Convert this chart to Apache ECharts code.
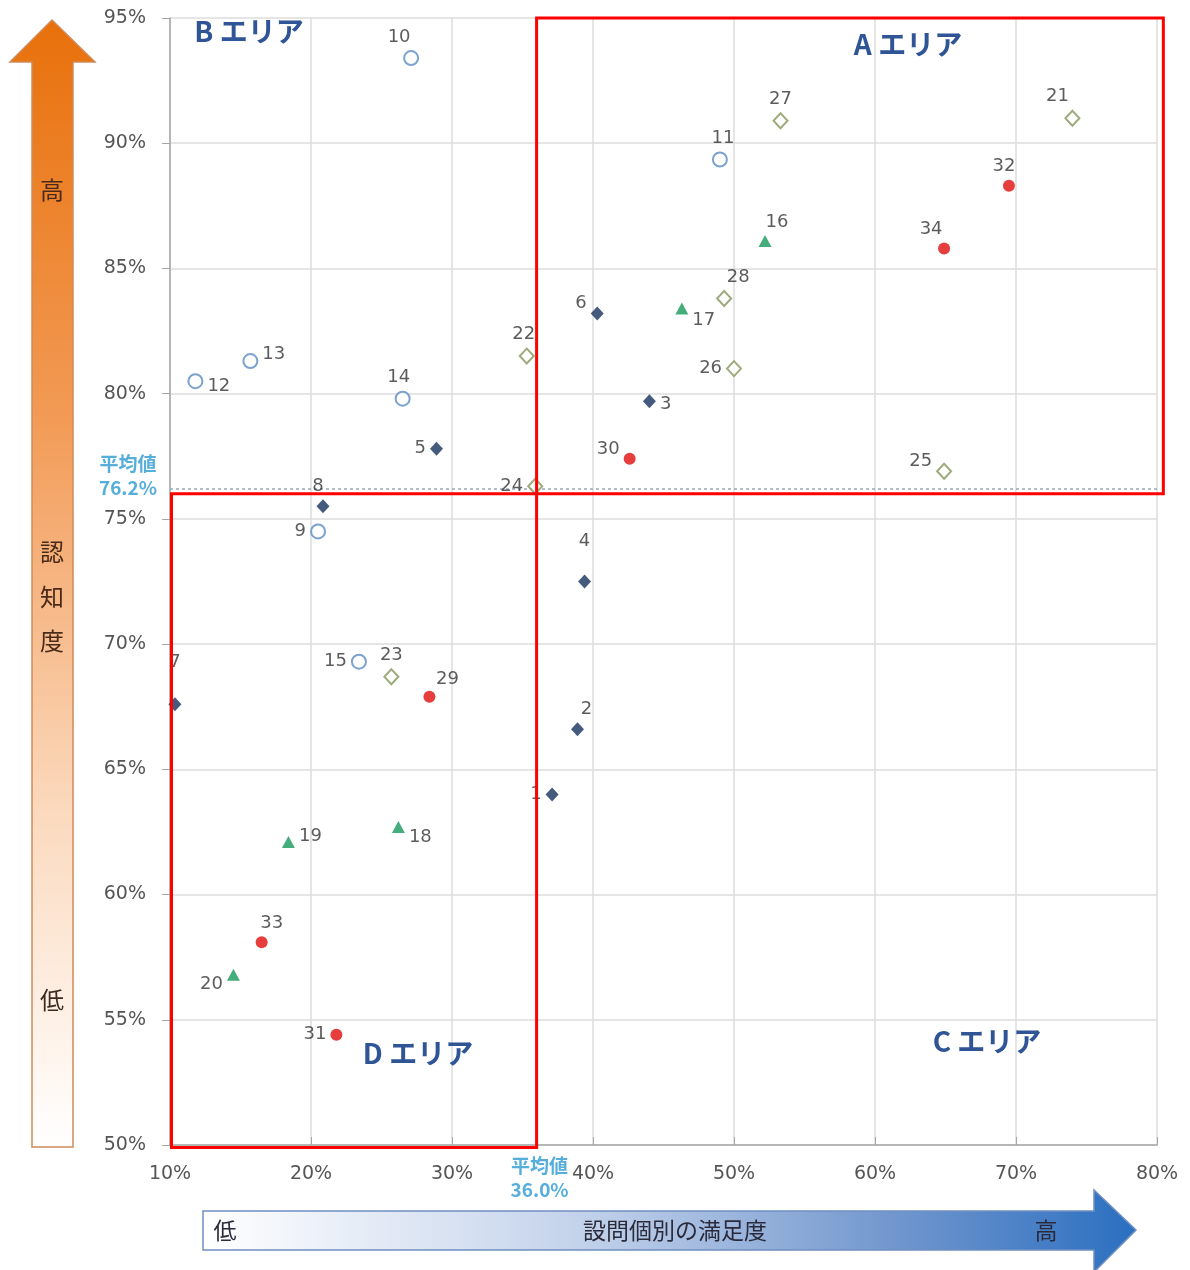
<!DOCTYPE html>
<html>
<head>
<meta charset="utf-8">
<script src="https://cdn.jsdelivr.net/npm/echarts@6/dist/echarts.min.js"></script>
<style>
html,body{margin:0;padding:0;background:#fff;}
#c{width:1190px;height:1270px;}
</style>
</head>
<body>
<div id="c"></div>
<script>
// ---- data: [満足度(%), 認知度(%), 設問番号]
const groupA = [[37.1,64.0,1],[38.9,66.6,2],[44.0,79.7,3],[39.4,72.5,4],[28.9,77.8,5],[40.3,83.2,6],[10.35,67.6,7],[20.85,75.5,8]];
const groupB = [[20.5,74.5,9],[27.1,93.4,10],[49.0,89.35,11],[11.8,80.5,12],[15.7,81.3,13],[26.5,79.8,14],[23.4,69.3,15]];
const groupC = [[52.2,86.1,16],[46.3,83.4,17],[26.2,62.7,18],[18.4,62.1,19],[14.5,56.8,20]];
const groupD = [[74.0,91.0,21],[35.3,81.5,22],[25.7,68.7,23],[35.9,76.3,24],[64.9,76.9,25],[50.0,81.0,26],[53.3,90.9,27],[49.3,83.8,28]];
const groupE = [[28.4,67.9,29],[42.6,77.4,30],[21.8,54.4,31],[69.5,88.3,32],[16.5,58.1,33],[64.9,85.8,34]];
const avgX = 36.0;
const avgY = 76.2;
const xTicks = [10,20,30,40,50,60,70,80];
const yTicks = [50,55,60,65,70,75,80,85,90,95];
const areaNames = ['A エリア','B エリア','C エリア','D エリア'];

// ---- label placement (style only)
const labelPlace = {
  1:['left',[0,0]],2:['top',[9,0]],3:['right',[0,3]],4:['top',[0,-20]],5:['left',[0,0]],6:['left',[0,-10]],
  7:['top',[0,-22]],8:['top',[-5,0]],9:['left',[0,0]],10:['top',[-12,0]],11:['top',[3,0]],12:['right',[0,5]],
  13:['right',[0,-7]],14:['top',[-4,0]],15:['left',[0,0]],16:['top',[12,0]],17:['right',[0,12]],18:['right',[0,10]],
  19:['right',[0,-6]],20:['left',[0,10]],21:['top',[-15,0]],22:['top',[-3,0]],23:['top',[0,0]],24:['left',[0,0]],
  25:['left',[0,-10]],26:['left',[0,0]],27:['top',[0,0]],28:['top',[14,0]],29:['top',[18,2]],30:['left',[0,-9]],
  31:['left',[0,0]],32:['top',[-5,0]],33:['top',[10,0]],34:['top',[-13,0]]
};

const numFont = '"DejaVu Sans", Verdana, sans-serif';
const jpFont = '"Noto Sans CJK JP", sans-serif';

function mkData(arr){
  return arr.map(d => {
    const p = labelPlace[d[2]] || ['top',[0,0]];
    return {value: d, label: {position: p[0], offset: p[1]}};
  });
}
function mkSeries(name, arr, symbol, size, itemStyle){
  return {
    name, type:'scatter', data: mkData(arr), symbol, symbolSize: size,
    itemStyle, clip:false, z:5,
    label:{show:true, formatter: p => String(p.value[2]), color:'#333333', fontSize:18, fontFamily:numFont, distance:4},
    emphasis:{disabled:true}
  };
}

const chart = echarts.init(document.getElementById('c'));
const grid = {left:170, right:33, top:18, bottom:125};

const option = {
  backgroundColor:'#fff',
  animation:false,
  grid,
  xAxis:{
    type:'value', min:10, max:80, interval:10,
    axisLine:{show:true, lineStyle:{color:'#a6a6a6', width:1.5}},
    axisTick:{show:true, inside:true, length:8, lineStyle:{color:'#a6a6a6'}},
    splitLine:{show:true, lineStyle:{color:'#dcdcdc', width:1.5}},
    axisLabel:{formatter: v => v + '%', color:'#555555', fontSize:19, fontFamily:numFont, margin:20}
  },
  yAxis:{
    type:'value', min:50, max:95, interval:5,
    axisLine:{show:true, lineStyle:{color:'#a6a6a6', width:1.5}},
    axisTick:{show:true, length:8, lineStyle:{color:'#a6a6a6'}},
    splitLine:{show:true, lineStyle:{color:'#dcdcdc', width:1.5}},
    axisLabel:{formatter: v => v + '%', color:'#555555', fontSize:19, fontFamily:numFont, margin:24}
  },
  series:[
    mkSeries('g1', groupA, 'diamond', [13,14], {color:'#17325c'}),
    mkSeries('g2', groupB, 'circle', 14, {color:'#fff', borderColor:'#5b8bc2', borderWidth:2}),
    mkSeries('g3', groupC, 'triangle', [13,12], {color:'#17995a'}),
    mkSeries('g4', groupD, 'diamond', [14,15], {color:'#fff', borderColor:'#84955a', borderWidth:2}),
    mkSeries('g5', groupE, 'circle', 12, {color:'#e00d0d'}),
    {
      type:'scatter', data:[], silent:true, z:2,
      markLine:{
        silent:true, symbol:'none', animation:false,
        lineStyle:{color:'#9aa6b8', type:[3,3], width:1.5},
        label:{show:false},
        data:[{xAxis:avgX},{yAxis:avgY}]
      }
    }
  ]
};
chart.setOption(option);

// ---- decorations computed through the chart scales
const pA1 = chart.convertToPixel({gridIndex:0}, [avgX, 95]);
const pA2 = chart.convertToPixel({gridIndex:0}, [80.45, avgY]);
const pD1 = chart.convertToPixel({gridIndex:0}, [10, avgY]);
const pD2 = chart.convertToPixel({gridIndex:0}, [avgX, 49.9]);
const pAvgY = chart.convertToPixel({gridIndex:0}, [10, avgY]);
const pAvgX = chart.convertToPixel({gridIndex:0}, [avgX, 50]);

const areaTextStyle = {fill:'#2f5597', font:'bold 28px ' + jpFont};
const avgStyle = {fill:'#56aedb', font:'bold 19px ' + jpFont, textAlign:'center'};

const graphics = [
  // red rectangles
  {type:'rect', z:10, shape:{x:pA1[0], y:pA1[1], width:pA2[0]-pA1[0], height:pA2[1]-pA1[1]+5},
   style:{fill:'none', stroke:'#ff0000', lineWidth:3}},
  {type:'rect', z:10, shape:{x:pD1[0]+1.5, y:pD1[1]+5, width:pD2[0]-pD1[0]-1.5, height:pD2[1]-pD1[1]-5},
   style:{fill:'none', stroke:'#ff0000', lineWidth:3}},
  // area names
  {type:'text', z:11, x:908, y:44, style:Object.assign({text:areaNames[0], textAlign:'center', textVerticalAlign:'middle'}, areaTextStyle)},
  {type:'text', z:11, x:249, y:31, style:Object.assign({text:areaNames[1], textAlign:'center', textVerticalAlign:'middle'}, areaTextStyle)},
  {type:'text', z:11, x:987, y:1041, style:Object.assign({text:areaNames[2], textAlign:'center', textVerticalAlign:'middle'}, areaTextStyle)},
  {type:'text', z:11, x:418, y:1053, style:Object.assign({text:areaNames[3], textAlign:'center', textVerticalAlign:'middle'}, areaTextStyle)},
  // average labels
  {type:'text', z:11, x:128, y:pAvgY[1]-37, style:Object.assign({text:'平均値\n' + avgY.toFixed(1) + '%', lineHeight:24}, avgStyle)},
  {type:'text', z:11, x:pAvgX[0]+3, y:1154, style:Object.assign({text:'平均値\n' + avgX.toFixed(1) + '%', lineHeight:24}, avgStyle)},
  // left orange arrow
  {type:'polygon', z:1,
   shape:{points:[[52,20],[95,62],[73,62],[73,1147],[32,1147],[32,62],[10,62]]},
   style:{fill:new echarts.graphic.LinearGradient(0,0,0,1,[
     {offset:0, color:'#e8700a'},{offset:0.35, color:'#f29a55'},{offset:0.7, color:'#fbd9bd'},{offset:1, color:'#ffffff'}]),
     stroke:'#d08a5a', lineWidth:1.5}},
  {type:'text', z:3, x:52, y:190, style:{text:'高', fill:'#4a2a18', font:'24px ' + jpFont, textAlign:'center', textVerticalAlign:'middle'}},
  {type:'text', z:3, x:52, y:552, style:{text:'認', fill:'#4a2a18', font:'24px ' + jpFont, textAlign:'center', textVerticalAlign:'middle'}},
  {type:'text', z:3, x:52, y:597, style:{text:'知', fill:'#4a2a18', font:'24px ' + jpFont, textAlign:'center', textVerticalAlign:'middle'}},
  {type:'text', z:3, x:52, y:641, style:{text:'度', fill:'#4a2a18', font:'24px ' + jpFont, textAlign:'center', textVerticalAlign:'middle'}},
  {type:'text', z:3, x:52, y:1000, style:{text:'低', fill:'#3a2a20', font:'24px ' + jpFont, textAlign:'center', textVerticalAlign:'middle'}},
  // bottom blue arrow
  {type:'polygon', z:1,
   shape:{points:[[203,1211],[1094,1211],[1094,1190],[1136,1230],[1094,1272],[1094,1250],[203,1250]]},
   style:{fill:new echarts.graphic.LinearGradient(0,0,1,0,[
     {offset:0, color:'#ffffff'},{offset:0.4, color:'#c4d3eb'},{offset:0.75, color:'#6f95cd'},{offset:1, color:'#2a6fc0'}]),
     stroke:'#6f8fc0', lineWidth:1.5}},
  {type:'text', z:3, x:225, y:1230, style:{text:'低', fill:'#2a2a3a', font:'23px ' + jpFont, textAlign:'center', textVerticalAlign:'middle'}},
  {type:'text', z:3, x:675, y:1230, style:{text:'設問個別の満足度', fill:'#2a2a3a', font:'23px ' + jpFont, textAlign:'center', textVerticalAlign:'middle'}},
  {type:'text', z:3, x:1046, y:1230, style:{text:'高', fill:'#2a2a3a', font:'23px ' + jpFont, textAlign:'center', textVerticalAlign:'middle'}}
];
chart.setOption({graphic: graphics});
</script>
</body>
</html>
